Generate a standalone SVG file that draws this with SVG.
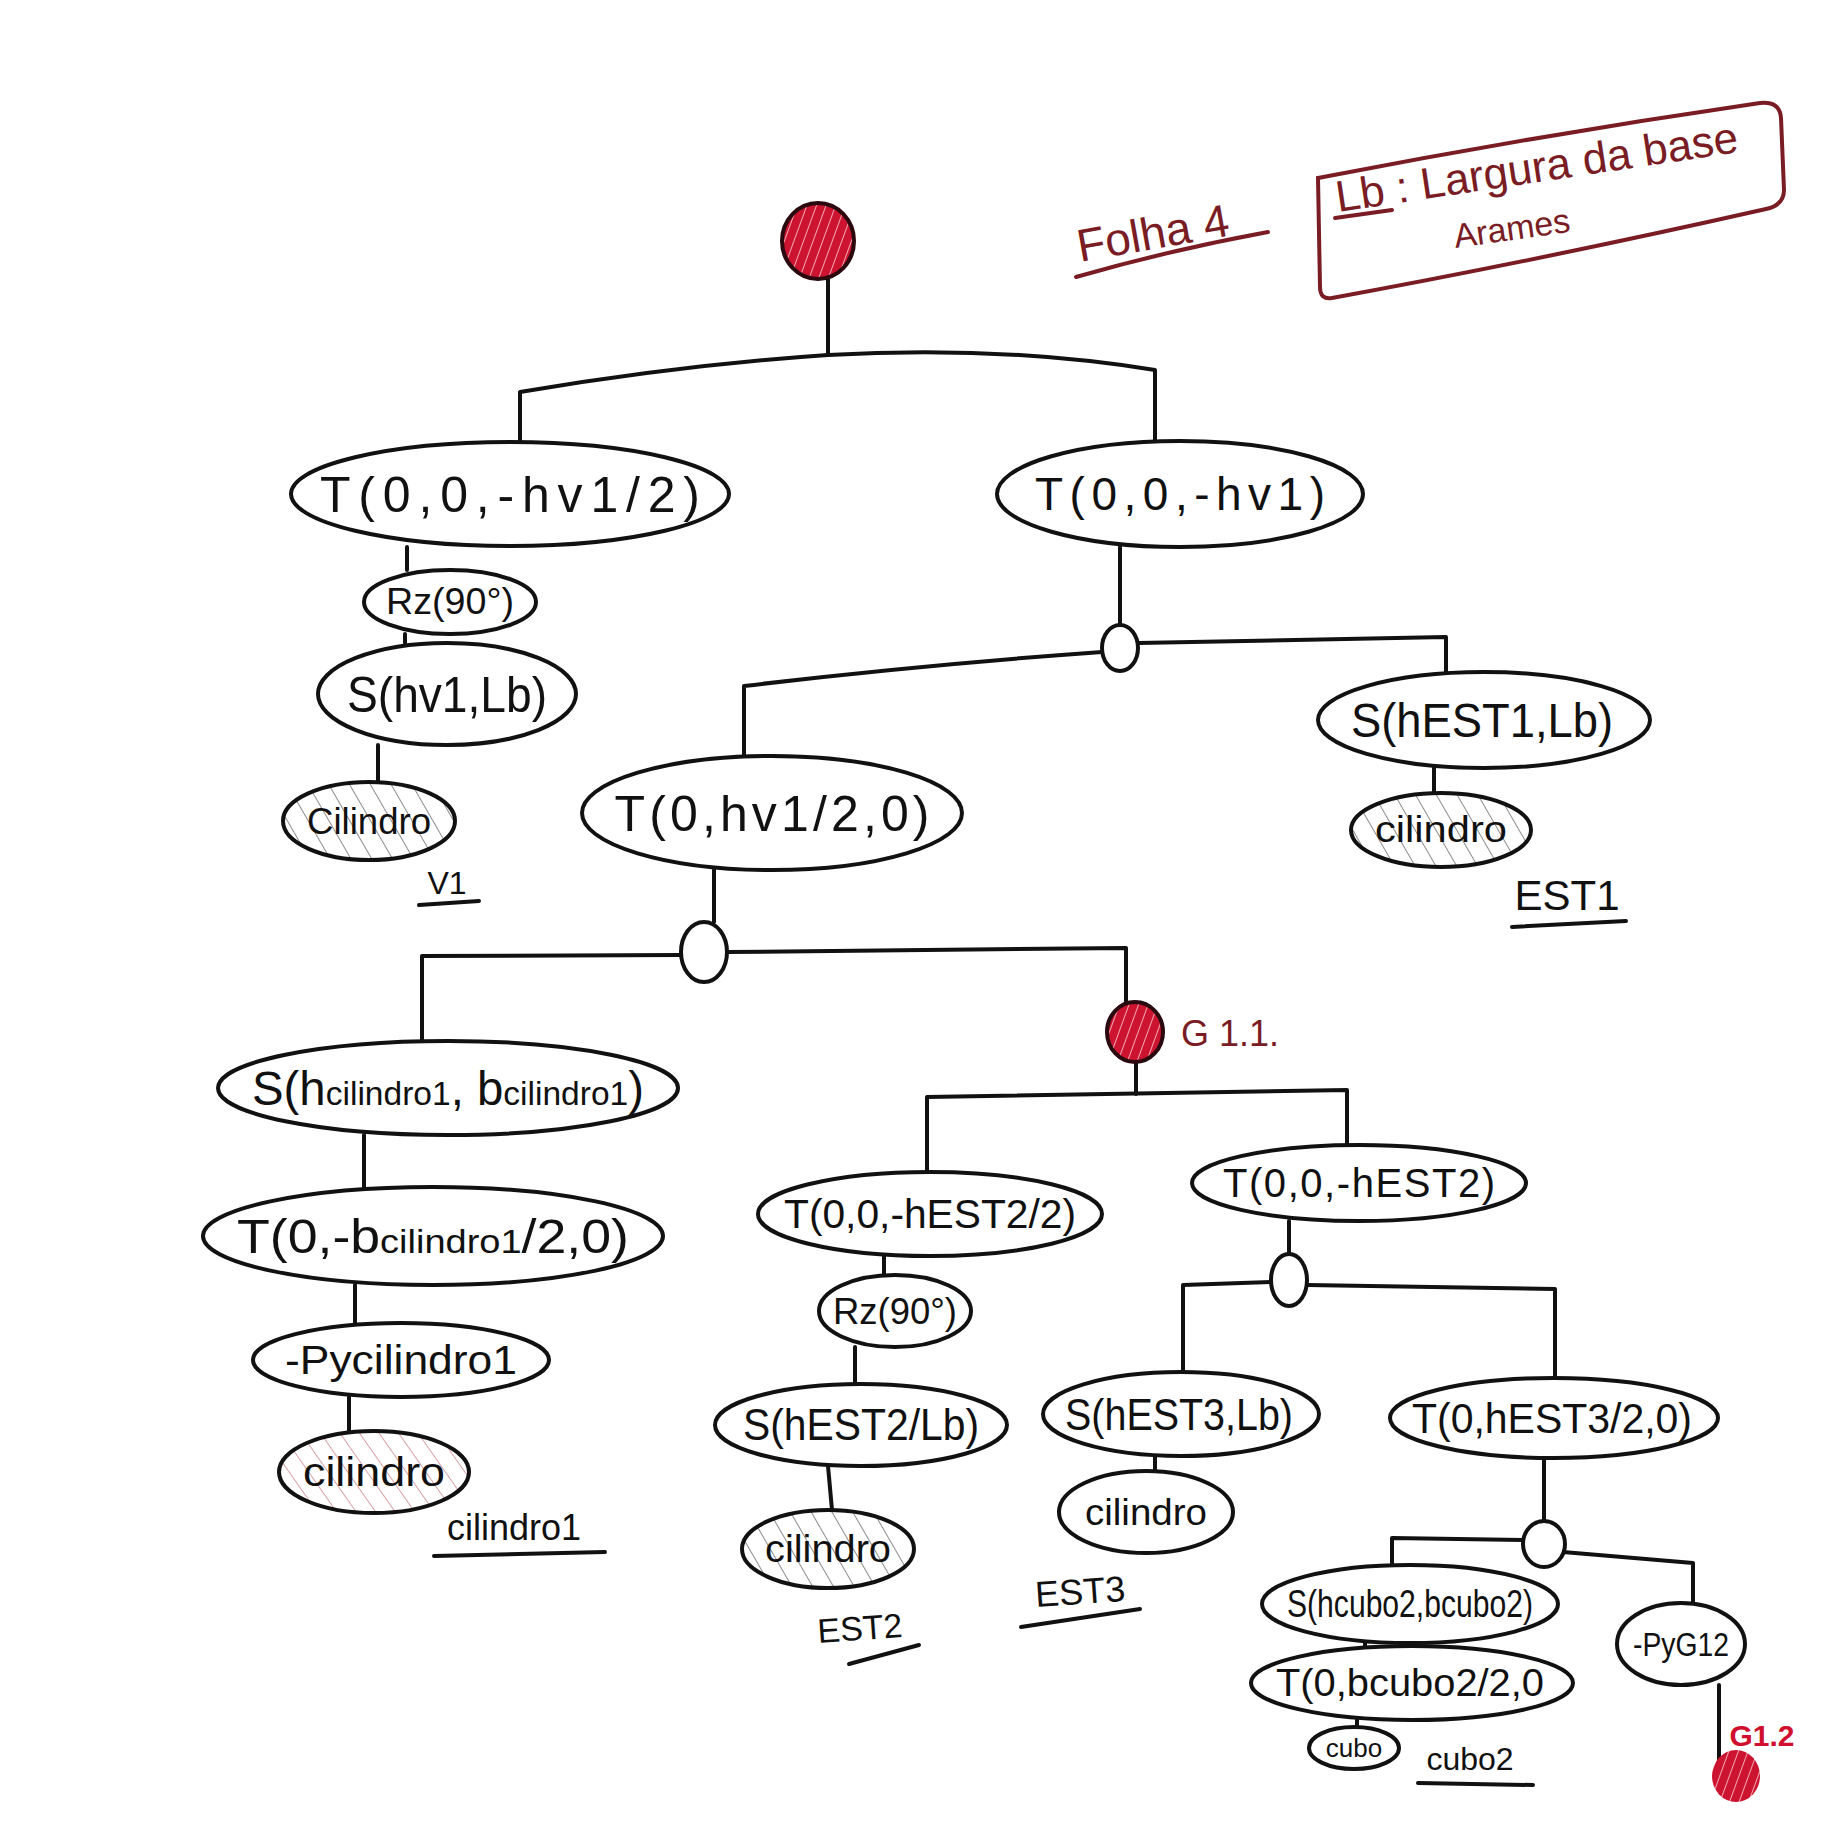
<svg xmlns="http://www.w3.org/2000/svg" width="1824" height="1824" viewBox="0 0 1824 1824">
<defs>
<pattern id="hatchGrey" patternUnits="userSpaceOnUse" width="18" height="18" patternTransform="rotate(-30)">
<rect width="18" height="18" fill="#fff"/>
<line x1="0" y1="0" x2="0" y2="18" stroke="#8c8c8c" stroke-width="2"/>
</pattern>
<pattern id="hatchPink" patternUnits="userSpaceOnUse" width="16" height="16" patternTransform="rotate(-35)">
<rect width="16" height="16" fill="#fff"/>
<line x1="0" y1="0" x2="0" y2="16" stroke="#d9a1a6" stroke-width="2"/>
</pattern>
<pattern id="hatchRoot" patternUnits="userSpaceOnUse" width="9" height="9" patternTransform="rotate(20)">
<rect width="9" height="9" fill="#cc1330"/>
<line x1="0" y1="0" x2="0" y2="9" stroke="#f2a7b2" stroke-width="2"/>
</pattern>
<style>
.n{fill:#fff;stroke:#111;stroke-width:4}
.hg{fill:url(#hatchGrey);stroke:#111;stroke-width:4}
.hp{fill:url(#hatchPink);stroke:#111;stroke-width:4}
.g{fill:url(#hatchRoot);stroke:#2a0a0e;stroke-width:4}
.c{fill:none;stroke:#111;stroke-width:4;stroke-linecap:round;stroke-linejoin:round}
.t{font-family:"Liberation Sans",Arial,sans-serif;fill:#111;text-anchor:middle}
.r{font-family:"Liberation Sans",Arial,sans-serif;fill:#7a1c24}
.rr{font-family:"Liberation Sans",Arial,sans-serif;fill:#d0102e;font-weight:bold}
.u{fill:none;stroke:#111;stroke-width:4;stroke-linecap:round}
.ur{fill:none;stroke:#7a1c24;stroke-width:4;stroke-linecap:round}
</style>
</defs>
<rect width="1824" height="1824" fill="#fff"/>

<g id="connectors">
<path class="c" d="M828,279 L828,355"/>
<path class="c" d="M520,442 L520,392 Q680,365 828,355 Q1000,345 1155,370 L1155,440"/>
<path class="c" d="M407,547 L407,570"/>
<path class="c" d="M405,634 L405,643"/>
<path class="c" d="M378,745 L378,782"/>
<path class="c" d="M1120,547 L1120,625"/>
<path class="c" d="M1102,652 Q920,665 744,686 L744,757"/>
<path class="c" d="M1138,643 L1446,637 L1446,673"/>
<path class="c" d="M1434,768 L1434,793"/>
<path class="c" d="M714,870 L714,922"/>
<path class="c" d="M681,955 L422,956 L422,1041"/>
<path class="c" d="M727,952 L1126,948 L1126,1002"/>
<path class="c" d="M1136,1062 L1136,1094"/>
<path class="c" d="M927,1173 L927,1097 L1347,1090 L1347,1146"/>
<path class="c" d="M364,1135 L364,1188"/>
<path class="c" d="M355,1285 L355,1323"/>
<path class="c" d="M349,1397 L349,1431"/>
<path class="c" d="M884,1256 L884,1276"/>
<path class="c" d="M855,1347 L855,1385"/>
<path class="c" d="M828,1466 L832,1510"/>
<path class="c" d="M1289,1221 L1289,1254"/>
<path class="c" d="M1271,1282 L1183,1285 L1183,1373"/>
<path class="c" d="M1307,1285 L1555,1289 L1555,1378"/>
<path class="c" d="M1155,1456 L1155,1471"/>
<path class="c" d="M1544,1458 L1544,1521"/>
<path class="c" d="M1523,1540 L1392,1538 L1392,1566"/>
<path class="c" d="M1563,1552 L1693,1563 L1693,1603"/>
<path class="c" d="M1365,1643 L1365,1647"/>
<path class="c" d="M1357,1720 L1357,1728"/>
<path class="c" d="M1719,1685 L1719,1760"/>
</g>

<g id="root"><ellipse class="g" cx="818" cy="241" rx="36" ry="38"/></g>

<g id="n_t_hv1_2"><ellipse class="n" cx="510" cy="494" rx="219" ry="52"/>
<text class="t" x="510" y="512" font-size="50" textLength="380" lengthAdjust="spacing">T(0,0,-hv1/2)</text></g>

<g id="n_rz1"><ellipse class="n" cx="450" cy="602" rx="86" ry="32"/>
<text class="t" x="450" y="614" font-size="36" textLength="128" lengthAdjust="spacingAndGlyphs">Rz(90°)</text></g>

<g id="n_s_hv1"><ellipse class="n" cx="447" cy="694" rx="129" ry="51"/>
<text class="t" x="447" y="712" font-size="50" textLength="200" lengthAdjust="spacingAndGlyphs">S(hv1,Lb)</text></g>

<g id="n_cil_v1"><ellipse class="hg" cx="369" cy="821" rx="86" ry="39"/>
<text class="t" x="369" y="834" font-size="36" textLength="124" lengthAdjust="spacingAndGlyphs">Cilindro</text></g>
<g id="lbl_v1"><text class="t" x="447" y="894" font-size="32">V1</text><path class="u" d="M419,905 L479,901"/></g>

<g id="n_t_hv1"><ellipse class="n" cx="1180" cy="494" rx="183" ry="53"/>
<text class="t" x="1180" y="510" font-size="46" textLength="290" lengthAdjust="spacing">T(0,0,-hv1)</text></g>

<g id="g1"><ellipse class="n" cx="1120" cy="648" rx="18" ry="23"/></g>

<g id="n_s_est1"><ellipse class="n" cx="1484" cy="720" rx="166" ry="48"/>
<text class="t" x="1482" y="737" font-size="48" textLength="262" lengthAdjust="spacingAndGlyphs">S(hEST1,Lb)</text></g>

<g id="n_cil_est1"><ellipse class="hg" cx="1441" cy="830" rx="90" ry="37"/>
<text class="t" x="1441" y="842" font-size="36" textLength="132" lengthAdjust="spacingAndGlyphs">cilindro</text></g>
<g id="lbl_est1"><text class="t" x="1567" y="910" font-size="42">EST1</text><path class="u" d="M1512,927 L1626,921"/></g>

<g id="n_t_hv1_2b"><ellipse class="n" cx="772" cy="813" rx="190" ry="57"/>
<text class="t" x="772" y="831" font-size="50" textLength="315" lengthAdjust="spacing">T(0,hv1/2,0)</text></g>

<g id="g2"><ellipse class="n" cx="704" cy="952" rx="23" ry="30"/></g>

<g id="n_s_cil1"><ellipse class="n" cx="448" cy="1088" rx="230" ry="47"/>
<text class="t" x="448" y="1105" font-size="48" textLength="392" lengthAdjust="spacingAndGlyphs">S(h<tspan font-size="34">cilindro1</tspan>, b<tspan font-size="34">cilindro1</tspan>)</text></g>

<g id="n_t_cil1"><ellipse class="n" cx="433" cy="1236" rx="230" ry="49"/>
<text class="t" x="433" y="1253" font-size="48" textLength="392" lengthAdjust="spacingAndGlyphs">T(0,-b<tspan font-size="34">cilindro1</tspan>/2,0)</text></g>

<g id="n_py_cil1"><ellipse class="n" cx="401" cy="1360" rx="148" ry="37"/>
<text class="t" x="401" y="1374" font-size="40" textLength="232" lengthAdjust="spacingAndGlyphs">-Pycilindro1</text></g>

<g id="n_cil1"><ellipse class="hp" cx="374" cy="1472" rx="95" ry="41"/>
<text class="t" x="374" y="1486" font-size="40" textLength="142" lengthAdjust="spacingAndGlyphs">cilindro</text></g>
<g id="lbl_cil1"><text class="t" x="514" y="1540" font-size="36">cilindro1</text><path class="u" d="M434,1556 L605,1552"/></g>

<g id="g11"><ellipse class="g" cx="1135" cy="1032" rx="28" ry="30"/>
<text class="r" x="1181" y="1046" font-size="36">G 1.1.</text></g>

<g id="n_t_est2_2"><ellipse class="n" cx="930" cy="1214" rx="172" ry="42"/>
<text class="t" x="930" y="1228" font-size="40" textLength="292" lengthAdjust="spacingAndGlyphs">T(0,0,-hEST2/2)</text></g>

<g id="n_rz2"><ellipse class="n" cx="895" cy="1311" rx="76" ry="36"/>
<text class="t" x="895" y="1324" font-size="36" textLength="124" lengthAdjust="spacingAndGlyphs">Rz(90°)</text></g>

<g id="n_s_est2"><ellipse class="n" cx="861" cy="1425" rx="146" ry="41"/>
<text class="t" x="861" y="1440" font-size="44" textLength="236" lengthAdjust="spacingAndGlyphs">S(hEST2/Lb)</text></g>

<g id="n_cil_est2"><ellipse class="hg" cx="828" cy="1549" rx="86" ry="39"/>
<text class="t" x="828" y="1562" font-size="38" textLength="126" lengthAdjust="spacingAndGlyphs">cilindro</text></g>
<g id="lbl_est2"><text class="t" x="860" y="1640" font-size="34" transform="rotate(-4 860 1630)">EST2</text><path class="u" d="M849,1664 L919,1645"/></g>

<g id="n_t_est2"><ellipse class="n" cx="1359" cy="1183" rx="167" ry="38"/>
<text class="t" x="1359" y="1197" font-size="40" textLength="272" lengthAdjust="spacing">T(0,0,-hEST2)</text></g>

<g id="g3"><ellipse class="n" cx="1289" cy="1280" rx="18" ry="26"/></g>

<g id="n_s_est3"><ellipse class="n" cx="1181" cy="1414" rx="138" ry="42"/>
<text class="t" x="1179" y="1430" font-size="44" textLength="228" lengthAdjust="spacingAndGlyphs">S(hEST3,Lb)</text></g>

<g id="n_cil_est3"><ellipse class="n" cx="1146" cy="1512" rx="87" ry="41"/>
<text class="t" x="1146" y="1525" font-size="36" textLength="122" lengthAdjust="spacingAndGlyphs">cilindro</text></g>
<g id="lbl_est3"><text class="t" x="1080" y="1604" font-size="36" transform="rotate(-4 1080 1590)">EST3</text><path class="u" d="M1021,1627 L1140,1609"/></g>

<g id="n_t_est3"><ellipse class="n" cx="1554" cy="1418" rx="164" ry="40"/>
<text class="t" x="1552" y="1433" font-size="42" textLength="280" lengthAdjust="spacingAndGlyphs">T(0,hEST3/2,0)</text></g>

<g id="g4"><ellipse class="n" cx="1544" cy="1544" rx="21" ry="23"/></g>

<g id="n_s_cubo2"><ellipse class="n" cx="1410" cy="1604" rx="148" ry="39"/>
<text class="t" x="1410" y="1617" font-size="38" textLength="246" lengthAdjust="spacingAndGlyphs">S(hcubo2,bcubo2)</text></g>

<g id="n_t_cubo2"><ellipse class="n" cx="1412" cy="1683" rx="161" ry="37"/>
<text class="t" x="1410" y="1696" font-size="38" textLength="268" lengthAdjust="spacingAndGlyphs">T(0,bcubo2/2,0</text></g>

<g id="n_cubo"><ellipse class="n" cx="1354" cy="1748" rx="45" ry="21"/>
<text class="t" x="1354" y="1757" font-size="26">cubo</text></g>
<g id="lbl_cubo2"><text class="t" x="1470" y="1770" font-size="32">cubo2</text><path class="u" d="M1418,1783 L1533,1785"/></g>

<g id="n_py_g12"><ellipse class="n" cx="1681" cy="1644" rx="64" ry="41"/>
<text class="t" x="1681" y="1656" font-size="34" textLength="96" lengthAdjust="spacingAndGlyphs">-PyG12</text></g>

<g id="g12"><ellipse cx="1736" cy="1776" rx="24" ry="26" fill="url(#hatchRoot)"/>
<text class="rr" x="1762" y="1746" font-size="30" text-anchor="middle">G1.2</text></g>

<g id="annotations">
<text class="r" x="1080" y="262" font-size="46" transform="rotate(-10 1080 262)">Folha 4</text>
<path class="ur" d="M1076,277 Q1170,250 1268,232"/>
<path class="ur" d="M1318,178 Q1540,135 1760,103 Q1780,101 1781,118 L1784,190 Q1784,205 1766,209 Q1540,260 1332,298 Q1320,300 1320,287 Z"/>
<text class="r" x="1338" y="212" font-size="44" transform="rotate(-8.5 1338 212)">Lb : Largura da base</text>
<path class="ur" d="M1335,218 L1392,210"/>
<text class="r" x="1512" y="240" font-size="34" text-anchor="middle" transform="rotate(-8 1512 230)">Arames</text>
</g>
</svg>
